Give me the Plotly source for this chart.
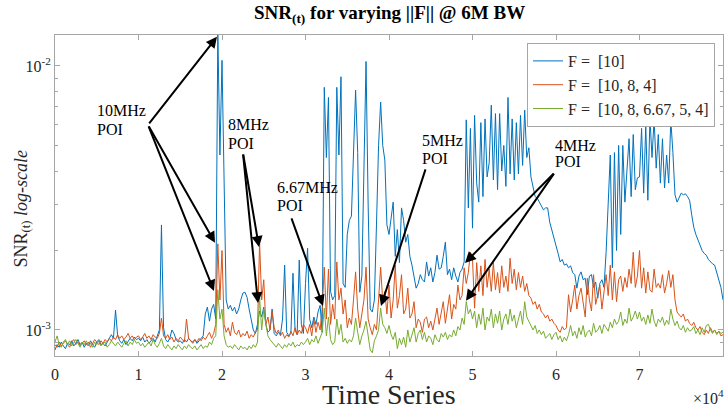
import numpy as np
import plotly.graph_objects as go

# ---------------- data (SNR values in units of 1e-3) ----------------
time_series = list(range(0, 80001, 250))

snr_f10_milli = (
    [0.84,0.88,0.86,0.90,0.87,0.85,0.89,0.88,0.91,0.87, 0.89,0.92,0.88,0.90,0.86,0.89,0.87,0.91,0.88,0.86,
     0.90,0.92,0.88,0.89,0.87,0.90,0.94,0.96,0.93,1.19, 0.95,0.91,0.89,0.92,0.88,0.90,0.93,0.91,0.94,0.92]
  + [0.93,0.91,0.94,0.90,0.92,0.89,0.91,0.93,0.90,0.95, 1.00,2.50,1.02,0.92,0.90,0.93,1.00,0.97,0.92,0.90,
     0.91,0.89,0.92,0.90,0.93,0.91,0.90,0.92,0.89,0.91, 0.93,0.95,1.15,1.22,1.08,1.20,1.25,1.10,13.5,4.60]
  + [10.5,4.3,1.3,1.2,1.24,1.18,1.22,1.15,1.2,1.3, 1.38,1.39,1.33,1.2,1.08,1.0,0.97,1.05,1.18,1.12,
     1.22,1.05,0.98,1.0,1.2,0.97,0.95,0.98,0.96,1.1, 1.76,0.98,0.95,0.97,1.64,1.0,0.96,1.84,1.05,0.97]
  + [1.5,2.04,1.1,1.02,1.12,1.05,1.17,1.24,0.98,8.3, 4.5,7.6,1.4,1.3,1.35,8.3,4.6,9.1,1.5,1.45,
     2.3,2.6,2.7,4.5,8.1,4.7,1.39,1.6,5.0,10.4, 3.0,1.2,1.17,1.3,2.5,5.0,7.3,5.0,4.4,2.5]
  + [2.3,2.6,3.05,1.9,2.4,1.8,2.9,2.6,2.15,2.3, 1.9,1.76,1.6,1.44,1.5,1.62,1.55,1.52,1.81,1.6,
     1.72,1.52,1.65,1.92,1.7,1.72,1.9,2.15,1.62,1.7, 1.55,1.72,1.6,1.52,1.65,1.7,1.81,6.25,2.9,5.8]
  + [2.43,6.5,3.6,3.05,6.1,3.2,6.3,3.8,4.3,7.1, 3.7,6.6,3.4,6.6,4.0,5.0,3.5,7.6,3.9,6.3,
     3.7,6.1,3.9,6.5,4.2,6.8,4.5,4.9,3.8,3.45, 3.2,3.16,3.05,2.97,2.85,2.9,2.9,2.56,2.4,2.2]
  + [2.1,1.95,1.81,1.85,1.76,1.78,1.72,1.75,1.65,1.62, 1.44,1.6,1.66,1.55,1.57,1.36,1.6,1.62,1.45,1.52,
     1.32,1.5,1.55,1.45,1.97,3.0,4.6,1.72,4.7,2.0, 5.0,2.3,5.0,3.05,4.2,5.3,3.2,5.5,3.4,3.77]
  + [3.8,5.8,3.3,5.97,3.1,6.35,4.5,6.3,4.1,5.5, 3.6,5.3,3.45,4.6,3.6,6.25,4.7,3.25,3.05,3.2,
     3.3,3.25,3.28,3.2,3.1,2.73,2.45,2.3,2.2,2.1, 2.0,1.95,1.92,1.85,1.81,1.78,1.76,1.65,1.55,1.45,1.3]
)

snr_f10_8_4_milli = (
    [0.88,0.86,0.90,0.87,0.89,0.91,0.88,0.86,0.90,0.92, 0.88,0.90,0.87,0.89,0.91,0.88,0.90,0.86,0.89,0.92,
     0.90,0.88,0.91,0.89,0.92,0.90,0.93,0.91,0.94,0.92, 0.96,0.93,0.95,0.92,0.94,0.97,0.93,0.95,0.92,0.94]
  + [0.95,0.92,0.94,0.97,0.93,0.95,0.92,0.96,0.94,0.93, 0.97,1.11,0.95,0.93,0.96,0.92,0.94,0.90,0.93,0.91,
     0.94,0.92,0.90,1.10,0.93,0.91,0.89,0.92,0.90,0.93, 0.91,0.94,0.92,0.95,0.98,0.93,0.97,1.05,2.12,1.30]
  + [2.0,1.05,0.98,1.02,0.95,1.07,0.98,0.96,1.0,0.94, 0.97,0.95,0.99,0.93,0.96,0.94,0.98,1.0,2.15,1.3,
     1.55,1.05,1.12,1.0,1.17,1.02,0.97,1.0,0.95,0.98, 0.93,0.96,0.94,0.99,0.95,1.02,0.96,1.0,0.97,1.05]
  + [1.02,0.97,1.05,0.95,1.1,0.98,1.07,1.0,1.2,1.73, 1.1,1.7,1.05,1.25,1.1,1.81,1.3,1.44,1.15,1.3,
     1.02,1.11,1.05,1.3,1.66,1.2,1.02,1.15,1.3,1.73, 1.1,1.02,0.96,1.05,1.0,1.3,1.73,1.28,1.4,1.15]
  + [1.48,1.11,1.3,1.76,1.21,1.35,1.62,1.15,1.2,1.44, 1.11,1.15,1.28,1.02,1.1,1.07,0.98,1.1,1.12,1.02,
     1.08,1.0,1.12,1.21,1.05,1.15,1.28,1.06,1.18,1.36, 1.1,1.25,1.2,1.48,1.3,1.35,1.72,1.5,1.65,1.97]
  + [1.85,1.21,1.8,1.4,1.75,1.35,1.85,1.45,1.7,1.4, 1.8,1.42,1.65,1.38,1.75,1.45,1.6,1.4,1.87,1.5,
     1.7,1.42,1.65,1.45,1.6,1.4,1.5,1.35,1.32,1.25, 1.28,1.2,1.25,1.17,1.15,1.11,1.14,1.08,1.1,1.06]
  + [1.04,1.0,0.98,1.03,1.0,1.02,1.36,1.17,1.3,1.48, 1.2,1.35,1.44,1.25,1.12,1.57,1.3,1.18,1.62,1.25,
     1.35,1.48,1.2,1.4,1.62,1.35,1.76,1.3,1.66,1.28, 1.55,1.6,1.4,1.58,1.45,1.7,1.5,1.97,1.45,1.6]
  + [2.0,1.44,1.72,1.38,1.66,1.42,1.39,1.7,1.45,1.5, 1.44,1.62,1.38,1.5,1.68,1.45,1.62,1.3,1.17,1.14,
     1.12,1.15,1.08,1.1,1.06,1.04,1.07,1.02,1.0,1.03, 0.98,0.96,1.0,0.97,1.02,0.98,1.0,0.97,0.99,0.95,0.96]
)

snr_f10_8_667_5_4_milli = (
    [0.90,0.95,0.88,0.86,0.90,0.92,0.88,0.91,0.87,0.90, 0.92,0.89,0.86,0.90,0.88,0.91,0.87,0.89,0.86,0.90,
     0.88,0.91,0.87,0.89,0.90,0.86,0.88,0.91,0.89,0.87, 0.90,0.88,0.86,0.89,0.91,0.87,0.90,0.88,0.92,0.89]
  + [0.90,0.87,0.89,0.86,0.88,0.90,0.87,0.92,0.88,0.86, 0.89,0.93,0.87,0.85,0.88,0.86,0.84,0.87,0.85,0.88,
     0.86,0.84,0.87,0.85,0.88,0.86,0.85,0.87,0.84,0.86, 0.88,0.85,0.87,0.86,0.90,0.88,0.93,0.95,1.42,1.10]
  + [1.2,0.95,0.88,0.86,0.87,0.85,0.88,0.86,0.84,0.87, 0.85,0.86,0.84,0.87,0.85,0.88,0.86,0.9,1.34,1.0,
     1.2,1.05,0.95,0.92,0.9,0.88,0.86,0.89,0.87,0.85, 0.88,0.86,0.89,0.87,0.9,0.86,0.88,0.87,0.9,0.88]
  + [0.9,0.93,0.88,0.92,0.9,0.95,0.89,0.93,0.98,1.21, 0.95,1.12,0.92,0.88,0.9,1.1,0.96,1.05,0.9,0.93,
     0.89,0.92,0.9,0.95,1.11,0.98,0.88,0.95,1.0,1.08, 0.93,0.84,0.82,0.91,0.95,1.0,1.21,1.05,1.02,0.97]
  + [1.04,0.96,0.92,0.98,0.85,0.93,0.88,0.94,0.86,1.0, 0.9,0.95,1.02,0.9,0.97,1.0,0.92,0.98,0.9,0.95,
     0.93,0.88,0.96,0.92,0.9,0.97,0.94,0.98,0.92,0.96, 0.94,1.0,0.95,1.03,1.0,1.11,1.05,1.28,1.15,1.2]
  + [1.1,1.18,1.02,1.15,1.05,1.21,1.0,1.12,1.08,1.2, 1.02,1.15,1.06,1.18,1.0,1.1,1.15,1.05,1.2,1.08,
     1.14,1.02,1.1,1.18,1.05,1.28,1.12,1.08,1.05,1.0, 1.04,0.97,1.0,0.96,0.99,0.93,0.95,0.97,0.92,0.96]
  + [0.98,0.92,0.95,0.9,0.94,0.91,0.96,1.04,0.95,0.99, 0.93,1.02,0.96,1.04,0.94,0.98,1.0,0.95,1.06,0.98,
     1.0,1.04,0.97,1.05,1.02,0.99,1.07,1.02,1.1,1.05, 1.08,1.17,1.04,1.1,1.06,1.21,1.08,1.12,1.18,1.1]
  + [1.17,1.08,1.12,1.05,1.14,1.06,1.2,1.08,1.03,1.1, 1.07,1.12,1.04,1.09,1.05,1.2,1.1,1.04,1.08,1.02,
     1.0,1.04,0.98,1.02,0.99,1.0,1.03,0.97,1.0,0.96, 1.02,0.98,1.04,1.05,1.0,0.97,1.0,0.96,0.99,0.97,0.98]
)

series_names = ["F = \u00a0[10]", "F = \u00a0[10, 8, 4]", "F = \u00a0[10, 8, 6.67, 5, 4]"]
series_colors = ["#0072BD", "#D95319", "#77AC30"]

x_tick_vals = [0, 10000, 20000, 30000, 40000, 50000, 60000, 70000, 80000]
x_tick_text = ["0", "1", "2", "3", "4", "5", "6", "7", "8"]
y_tick_vals = [1e-3, 1e-2]
y_tick_text = ["10<sup>-3</sup>", "10<sup>-2</sup>"]
y_minor_vals = [9e-4, 2e-3, 3e-3, 4e-3, 5e-3, 6e-3, 7e-3, 8e-3, 9e-3]
y_limits = [0.000797, 0.0131]

# POI labels: (lines, t, snr of each line)
poi_labels = [
    (["10MHz", "POI"], 4790, [0.00676, 0.00577]),
    (["8MHz", "POI"], 20480, [0.00600, 0.00508]),
    (["6.67MHz", "POI"], 26350, [0.00345, 0.00295]),
    (["5MHz", "POI"], 43710, [0.00522, 0.00445]),
    (["4MHz", "POI"], 59640, [0.00500, 0.00433]),
]
# arrows: (tail t, tail snr, head t, head snr)
poi_arrows = [
    (11140, 0.00598, 19400, 0.0129),
    (11140, 0.00598, 19160, 0.00214),
    (11140, 0.00598, 19040, 0.001406),
    (22510, 0.00468, 24430, 0.00206),
    (22510, 0.00468, 24310, 0.001264),
    (28260, 0.00268, 32100, 0.001233),
    (44430, 0.00411, 39040, 0.001233),
    (59880, 0.00396, 49100, 0.001795),
    (59880, 0.00396, 49220, 0.00129),
]

# ---------------- figure ----------------
FONT = "Liberation Serif, Times New Roman, serif"
fig = go.Figure()
for vals, name, col in zip([snr_f10_milli, snr_f10_8_4_milli, snr_f10_8_667_5_4_milli],
                           series_names, series_colors):
    assert len(vals) == len(time_series)
    fig.add_trace(go.Scatter(x=time_series, y=np.array(vals) * 1e-3, mode="lines",
                             name=name, line=dict(color=col, width=1)))

annotations = []
for lines, t, ys in poi_labels:
    for txt, yv in zip(lines, ys):
        annotations.append(dict(x=t, y=np.log10(yv), xref="x", yref="y", text=txt,
                                showarrow=False, xanchor="left", yanchor="middle",
                                font=dict(family=FONT, size=16, color="black")))
for tx, ty, hx, hy in poi_arrows:
    annotations.append(dict(x=hx, y=np.log10(hy), ax=tx, ay=np.log10(ty),
                            xref="x", yref="y", axref="x", ayref="y", text="",
                            showarrow=True, arrowhead=2, arrowsize=1.1, arrowwidth=2,
                            arrowcolor="black", standoff=0, startstandoff=0))
# title, axis labels and exponent
annotations.append(dict(x=0.5, y=1, xref="paper", yref="paper", yshift=21,
                        text="<b>SNR<sub>(t)</sub> for varying ||F|| @ 6M BW</b>",
                        showarrow=False, xanchor="center", yanchor="middle",
                        font=dict(family=FONT, size=19, color="black")))
annotations.append(dict(x=0.5, y=-(394 - 356) / 321, xref="paper", yref="paper",
                        text="Time Series", showarrow=False, xanchor="center", yanchor="middle",
                        font=dict(family=FONT, size=28, color="#262626")))
annotations.append(dict(x=0, y=0.5, xref="paper", yref="paper", xshift=-33, yshift=-14,
                        text="SNR<sub>(t)</sub> <i>log-scale</i>", textangle=-90, showarrow=False,
                        xanchor="center", yanchor="middle",
                        font=dict(family=FONT, size=18, color="#262626")))
annotations.append(dict(x=1, y=-(397 - 356) / 321, xref="paper", yref="paper", xshift=3,
                        text="\u00d710<sup>4</sup>", showarrow=False, xanchor="right", yanchor="middle",
                        font=dict(family=FONT, size=16, color="#262626")))

axis_common = dict(showline=True, linecolor="#a6a6a6", linewidth=1, mirror="ticks",
                   ticks="inside", tickcolor="#a6a6a6", ticklen=5, showgrid=False, zeroline=False,
                   tickfont=dict(family=FONT, size=16, color="#262626"))

fig.update_layout(
    width=726, height=412,
    margin=dict(l=55, r=3, t=35, b=56),
    paper_bgcolor="white", plot_bgcolor="white",
    xaxis=dict(range=[0, 80000], tickmode="array", tickvals=x_tick_vals, ticktext=x_tick_text,
               ticklabelstandoff=4, **axis_common),
    yaxis=dict(type="log", range=[np.log10(y_limits[0]), np.log10(y_limits[1])],
               tickmode="array", tickvals=y_tick_vals, ticktext=y_tick_text,
               minor=dict(tickmode="array", tickvals=y_minor_vals, ticks="inside", ticklen=3,
                          tickcolor="#a6a6a6"),
               **axis_common),
    showlegend=True,
    legend=dict(x=(715 - 55) / 668, xanchor="right", y=(356 - 43) / 321, yanchor="top",
                bgcolor="white", bordercolor="#a6a6a6", borderwidth=1,
                font=dict(family=FONT, size=16, color="#262626"),
                itemwidth=30, tracegroupgap=0),
    annotations=annotations,
)

fig.write_html("out.html")
